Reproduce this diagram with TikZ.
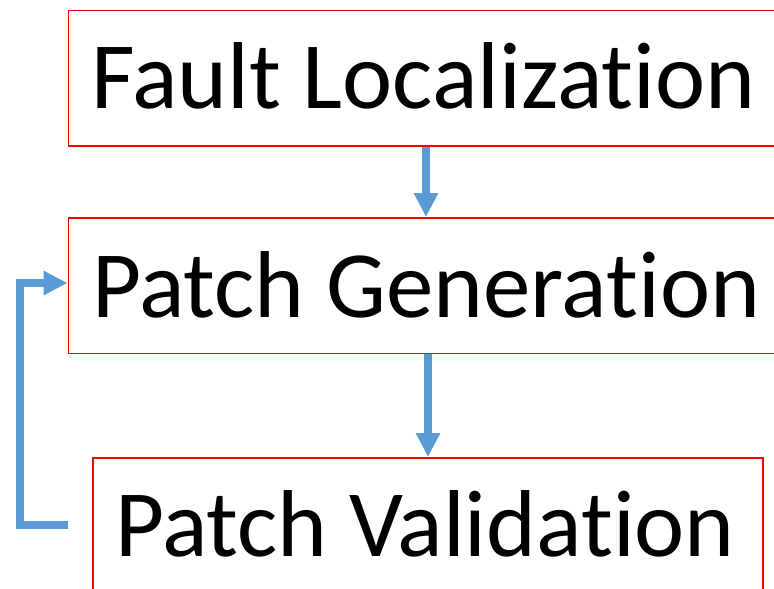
\documentclass[tikz,border=0pt]{standalone}
\usepackage{fontspec}
\setmainfont[RawFeature={-liga;-clig;-dlig}]{Carlito}
\usetikzlibrary{arrows.meta,calc}
\definecolor{flowblue}{HTML}{5B9BD5}
\tikzset{
  stage/.style={draw=red, line width=1.7pt, anchor=north west, inner sep=0pt},
  label/.style={anchor=base west, inner sep=0pt, font=\fontsize{95}{100}\selectfont},
  flow/.style={draw=flowblue, line width=8pt,
    -{Triangle[width=23pt,length=24pt]}},
}
\begin{document}
\begin{tikzpicture}[x=1pt,y=-1pt]
\useasboundingbox (0,0) rectangle (774,589);
\clip (0,0) rectangle (774,589);
% stage frames
\node[stage, minimum width=740pt, minimum height=135.5pt] (fl) at (67.5,9.5) {};
\node[stage, minimum width=740pt, minimum height=135.5pt] (pg) at (67.5,217) {};
\node[stage, minimum width=670pt, minimum height=180pt] (pv) at (92,457) {};
% stage titles
\node[label] (flt) at (91,108) {Fault Localization};
\node[label] (pgt) at (92,317) {Patch Generation};
\node[label] (pvt) at (115,556) {Patch Validation};
% forward flow
\coordinate (c1) at (426,0);
\coordinate (c2) at (428,0);
\draw[flow] (fl.south -| c1) -- (pg.north -| c1);
\draw[flow] (pg.south -| c2) -- (pv.north -| c2);
% feedback loop from validation back to generation
\coordinate (fbs) at ($(pv.north west)+(-24,68)$);
\coordinate (fbe) at ($(pg.north west)+(0,66)$);
\draw[flow] (fbs) -- (20,0 |- fbs) -- (20,0 |- fbe) -- (fbe);
\end{tikzpicture}
\end{document}
